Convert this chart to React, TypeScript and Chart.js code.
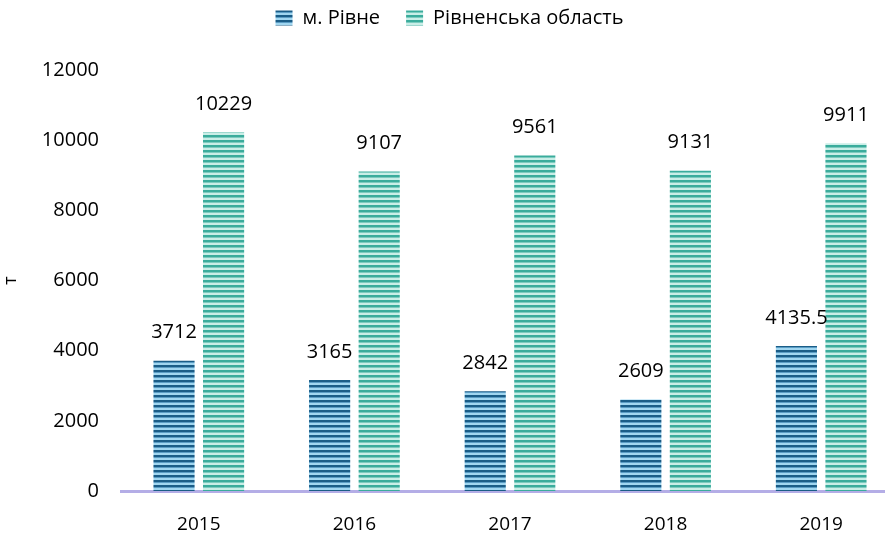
import React, { useEffect, useRef } from "react";
import { Chart, registerables } from "chart.js";

Chart.register(...registerables);

const categories = ["2015", "2016", "2017", "2018", "2019"];
const rivneCity = [3712, 3165, 2842, 2609, 4135.5];
const rivneRegion = [10229, 9107, 9561, 9131, 9911];
const seriesNames = ["м. Рівне", "Рівненська область"];
const yTicks = [0, 2000, 4000, 6000, 8000, 10000, 12000];

const FONT = "'Open Sans', 'Noto Sans', sans-serif";

function makeStripes(dark: string, light: string, mid: string): CanvasPattern | string {
  const c = document.createElement("canvas");
  c.width = 4;
  c.height = 5;
  const ctx = c.getContext("2d");
  if (!ctx) return dark;
  ctx.fillStyle = light;
  ctx.fillRect(0, 0, 4, 5);
  ctx.fillStyle = dark;
  ctx.fillRect(0, 0, 4, 2);
  ctx.fillStyle = mid;
  ctx.fillRect(0, 2, 4, 1);
  const p = ctx.createPattern(c, "repeat");
  return p || dark;
}

const valueLabels = {
  id: "valueLabels",
  afterDatasetsDraw(chart: any) {
    const ctx = chart.ctx;
    ctx.save();
    ctx.font = `20px ${FONT}`;
    ctx.fillStyle = "#000";
    ctx.textAlign = "center";
    ctx.textBaseline = "middle";
    chart.data.datasets.forEach((ds: any, di: number) => {
      const meta = chart.getDatasetMeta(di);
      meta.data.forEach((el: any, i: number) => {
        ctx.fillText(String(ds.data[i]), el.x, el.y - 28);
      });
    });
    ctx.restore();
  },
};

const legendMargin = {
  id: "legendMargin",
  beforeInit(chart: any) {
    const legend = chart.legend;
    if (!legend) return;
    const orig = legend.fit.bind(legend);
    legend.fit = function () {
      orig();
      this.height += 32;
    };
  },
};

export default function App() {
  const ref = useRef<HTMLCanvasElement>(null);
  useEffect(() => {
    if (!ref.current) return;
    const darkFill = makeStripes("#1a5d87", "#a0d6f0", "#5a9cc4");
    const tealFill = makeStripes("#3aac9c", "#c9eee7", "#7ccbbf");
    const chart = new Chart(ref.current, {
      type: "bar",
      data: {
        labels: categories,
        datasets: [
          {
            label: seriesNames[0],
            data: rivneCity,
            backgroundColor: darkFill as any,
            borderWidth: 0,
            categoryPercentage: 0.637,
            barPercentage: 0.83,
          },
          {
            label: seriesNames[1],
            data: rivneRegion,
            backgroundColor: tealFill as any,
            borderWidth: 0,
            categoryPercentage: 0.637,
            barPercentage: 0.83,
          },
        ],
      },
      options: {
        animation: false,
        responsive: false,
        layout: { padding: { top: -18, right: 1, left: 0, bottom: 0 } },
        plugins: {
          legend: {
            position: "top",
            labels: {
              font: { family: FONT, size: 20 },
              color: "#000",
              boxWidth: 17,
              boxHeight: 15,
              padding: 26,
            },
          },
          tooltip: { enabled: false },
        },
        scales: {
          x: {
            grid: { display: false },
            border: { display: true, color: "#b4ade6", width: 3 },
            ticks: {
              font: { family: FONT, size: 19 },
              color: "#000",
              padding: 14,
            },
            afterFit(scale: any) {
              scale.height = 45;
            },
          },
          y: {
            min: 0,
            max: 12000,
            afterBuildTicks(scale: any) {
              scale.ticks = yTicks.map((v) => ({ value: v }));
            },
            grid: { display: false },
            border: { display: false },
            ticks: {
              font: { family: FONT, size: 20 },
              color: "#000",
              padding: 14,
              callback: (v: any) => String(v),
            },
            title: {
              display: true,
              text: "т",
              font: { family: FONT, size: 18 },
              color: "#000",
              padding: 0,
            },
            afterFit(scale: any) {
              scale.width = 121;
            },
          },
        },
      },
      plugins: [valueLabels, legendMargin],
    });
    return () => chart.destroy();
  }, []);
  return (
    <div
      style={{
        position: "fixed",
        left: 0,
        top: 0,
        width: 885,
        height: 536,
        overflow: "hidden",
        background: "#fff",
      }}
    >
      <canvas ref={ref} width={900} height={536} style={{ display: "block" }} />
    </div>
  );
}
